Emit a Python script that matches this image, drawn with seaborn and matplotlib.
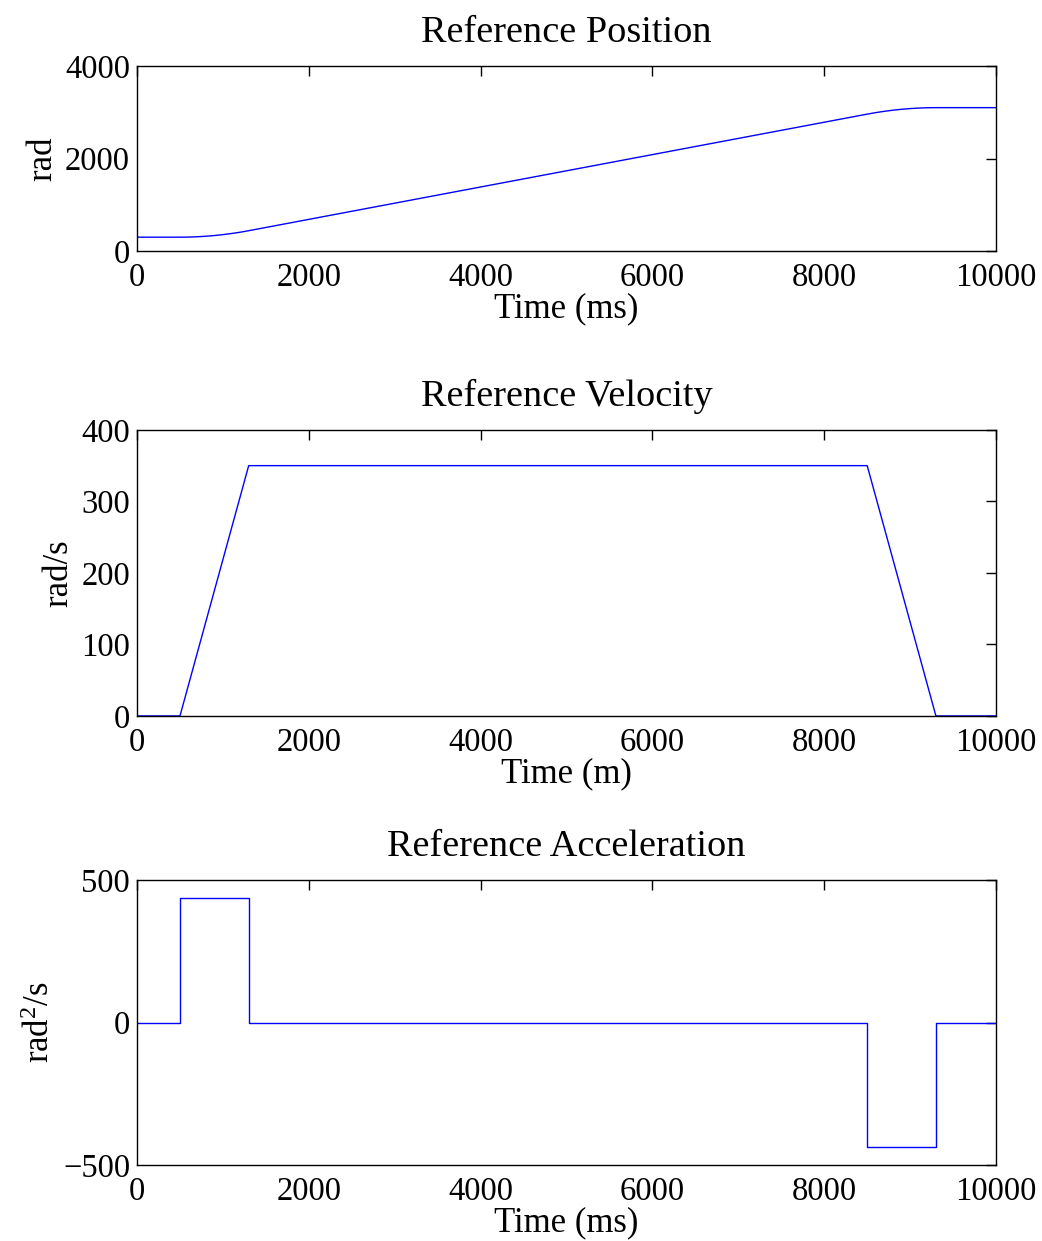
import numpy as np
import pandas as pd
import seaborn as sns
import matplotlib
matplotlib.use('Agg')
import matplotlib.pyplot as plt

# Valores
tempo_pos = [0, 500, 600, 700, 800, 900, 1000, 1100, 1200, 1300,
             8500, 8600, 8700, 8800, 8900, 9000, 9100, 9200, 9300, 10000]
posicao = [300, 300, 302, 309, 320, 335, 355, 379, 407, 440,
           2960, 2993, 3021, 3045, 3065, 3080, 3091, 3098, 3100, 3100]

tempo_vel = [0, 500, 1300, 8500, 9300, 10000]
velocidade = [0, 0, 350, 350, 0, 0]

tempo_acc = [0, 500, 500, 1300, 1300, 8500, 8500, 9300, 9300, 10000]
aceleracao = [0, 0, 437.5, 437.5, 0, 0, -437.5, -437.5, 0, 0]

sns.set_theme(style='white')
plt.rcParams['font.family'] = ['Liberation Serif', 'DejaVu Serif']
plt.rcParams['mathtext.default'] = 'regular'
plt.rcParams['axes.edgecolor'] = 'black'
plt.rcParams['axes.linewidth'] = 1.0
plt.rcParams['text.color'] = 'black'
plt.rcParams['axes.labelcolor'] = 'black'
plt.rcParams['axes.titlecolor'] = 'black'

fig = plt.figure(figsize=(10.42, 12.41), dpi=100)
left, width = 0.1315, 0.8244
ax1 = fig.add_axes([left, 0.7977, width, 0.1491])
ax2 = fig.add_axes([left, 0.4231, width, 0.2305])
ax3 = fig.add_axes([left, 0.0612, width, 0.2297])

df_pos = pd.DataFrame({'t': tempo_pos, 'v': posicao})
df_vel = pd.DataFrame({'t': tempo_vel, 'v': velocidade})
df_acc = pd.DataFrame({'t': tempo_acc, 'v': aceleracao})

config = [
    (ax1, df_pos, 'Reference Position', 'Time (ms)', 'rad', (0, 4000), [0, 2000, 4000]),
    (ax2, df_vel, 'Reference Velocity', 'Time (m)', 'rad/s', (0, 400), [0, 100, 200, 300, 400]),
    (ax3, df_acc, 'Reference Acceleration', 'Time (ms)', 'rad$^2$/s', (-500, 500), [-500, 0, 500]),
]

for ax, df, titulo, xl, yl, ylim, yticks in config:
    sns.lineplot(data=df, x='t', y='v', ax=ax, color='#0000ff', linewidth=1.0,
                 estimator=None, sort=False)
    ax.set_xlim(0, 10000)
    ax.set_ylim(*ylim)
    ax.set_xticks([0, 2000, 4000, 6000, 8000, 10000])
    ax.set_yticks(yticks)
    ax.tick_params(direction='in', length=7, width=1, top=True, right=True,
                   labelsize=23.5, colors='black')
    ax.tick_params(axis='x', pad=8)
    ax.tick_params(axis='y', pad=5)
    ax.set_title(titulo, fontsize=27.5, pad=17)
    ax.set_xlabel(xl, fontsize=25, labelpad=0)
    ax.set_ylabel(yl, fontsize=25, labelpad=4)
    for s in ax.spines.values():
        s.set_visible(True)
        s.set_color('black')

fig.savefig('out.png', dpi=100, facecolor='white')
